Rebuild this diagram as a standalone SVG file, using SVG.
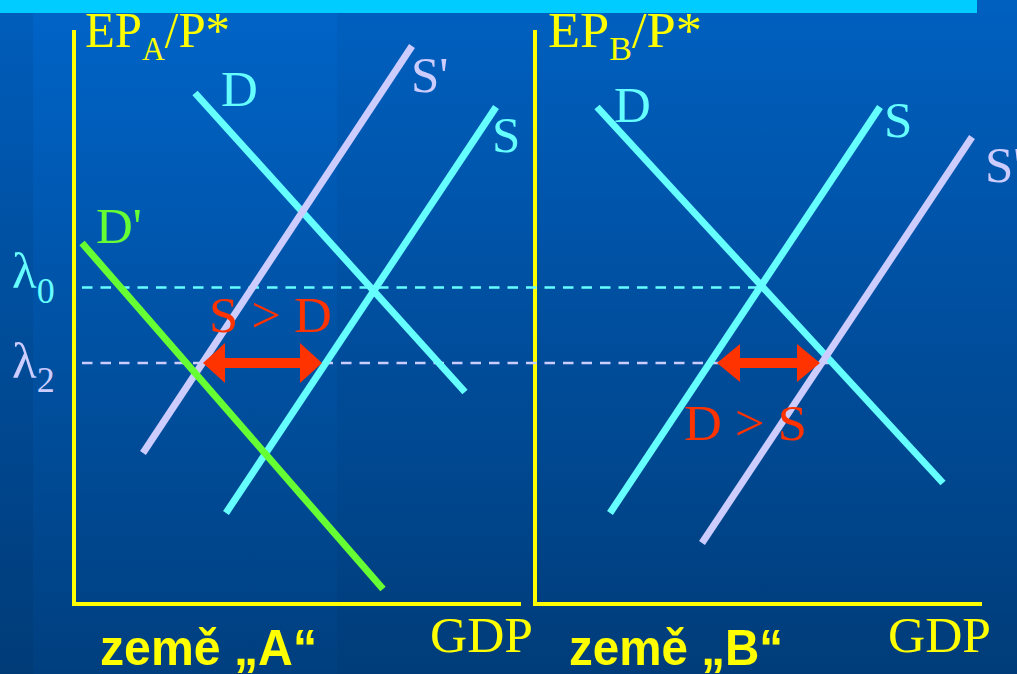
<svg xmlns="http://www.w3.org/2000/svg" width="1017" height="674" viewBox="0 0 1017 674">
  <defs>
    <linearGradient id="bg" x1="0" y1="0" x2="0" y2="1">
      <stop offset="0" stop-color="#0064c8"/>
      <stop offset="1" stop-color="#003f7f"/>
    </linearGradient>
    <style>
      .axis{stroke:#ffff00;stroke-width:4;fill:none;stroke-linecap:square}
      .cy{stroke:#66ffff;stroke-width:7;fill:none}
      .lv{stroke:#ccccff;stroke-width:7;fill:none}
      .gr{stroke:#66ff33;stroke-width:7;fill:none}
      .dash0{stroke:#66ffff;stroke-width:2.5;stroke-dasharray:10.5 8;fill:none}
      .dash2{stroke:#ccccff;stroke-width:2.5;stroke-dasharray:10.5 8;fill:none}
      .arrow{fill:#ff3300}
      .t{font-family:"Liberation Serif","Times New Roman",serif;font-size:51px}
      .b{font-family:"Liberation Sans",Arial,sans-serif;font-weight:bold;font-size:50px;fill:#ffff00}
      .yl{fill:#ffff00}
      .cyt{fill:#66ffff}
      .lvt{fill:#ccccff}
      .grt{fill:#66ff33}
      .rd{fill:#ff3300}
    </style>
  </defs>
  <g id="background">
    <rect x="0" y="0" width="1017" height="674" fill="url(#bg)"/>
    <rect x="0" y="0" width="33" height="674" fill="#000000" fill-opacity="0.06"/>
    <rect x="337" y="0" width="680" height="674" fill="#000000" fill-opacity="0.04"/>
    <rect x="0" y="0" width="977" height="13" fill="#00ccff"/>
  </g>
  <g id="axes-A">
    <polyline class="axis" points="74,32 74,604 519,604"/>
  </g>
  <g id="axes-B">
    <polyline class="axis" points="535,32 535,604 980,604"/>
  </g>
  <g id="connectors">
    <line class="dash0" x1="82" y1="287.5" x2="760" y2="287.5"/>
    <line class="dash2" x1="82" y1="363" x2="836" y2="363"/>
  </g>
  <g id="curve-D-A"><line class="cy" x1="195" y1="93" x2="465" y2="392"/></g>
  <g id="curve-S-A"><line class="cy" x1="496" y1="107" x2="226" y2="513"/></g>
  <g id="curve-S1-A"><line class="lv" x1="412" y1="46" x2="143" y2="453"/></g>
  <g id="curve-D1-A"><line class="gr" x1="82" y1="243" x2="383" y2="589"/></g>
  <g id="curve-D-B"><line class="cy" x1="597" y1="107" x2="943" y2="483"/></g>
  <g id="curve-S-B"><line class="cy" x1="880" y1="107" x2="610" y2="513"/></g>
  <g id="curve-S1-B"><line class="lv" x1="972" y1="137" x2="702" y2="543"/></g>
  <g id="arrow-A">
    <path class="arrow" d="M203,363 L225,343 L225,358 L300,358 L300,343 L322,363 L300,383 L300,368 L225,368 L225,383 Z"/>
  </g>
  <g id="arrow-B">
    <path class="arrow" d="M717,363 L740,344 L740,358 L797,358 L797,344 L820,363 L797,382 L797,368 L740,368 L740,382 Z"/>
  </g>
  <g id="labels">
    <text class="t yl" x="85" y="47" textLength="145" lengthAdjust="spacingAndGlyphs">EP<tspan font-size="33" dy="13">A</tspan><tspan dy="-13">/P*</tspan></text>
    <text class="t yl" x="548" y="47" textLength="154" lengthAdjust="spacingAndGlyphs">EP<tspan font-size="33" dy="13">B</tspan><tspan dy="-13">/P*</tspan></text>
    <text class="t cyt" x="221" y="106">D</text>
    <text class="t lvt" x="411" y="92">S'</text>
    <text class="t cyt" x="492" y="152">S</text>
    <text class="t grt" x="96" y="243">D'</text>
    <text class="t cyt" x="12" y="288" font-size="56">λ<tspan font-size="36" dy="15">0</tspan></text>
    <text class="t lvt" x="12" y="378" font-size="56">λ<tspan font-size="36" dy="14">2</tspan></text>
    <text class="t rd" x="209" y="332" textLength="123" lengthAdjust="spacingAndGlyphs">S &gt; D</text>
    <text class="t rd" x="684" y="440" textLength="123" lengthAdjust="spacingAndGlyphs">D &gt; S</text>
    <text class="t cyt" x="614" y="122">D</text>
    <text class="t cyt" x="884" y="137">S</text>
    <text class="t lvt" x="985" y="182">S'</text>
    <text class="t yl" x="430" y="652" textLength="103" lengthAdjust="spacingAndGlyphs">GDP</text>
    <text class="t yl" x="888" y="652" textLength="103" lengthAdjust="spacingAndGlyphs">GDP</text>
    <text class="b" x="100" y="665" textLength="217" lengthAdjust="spacingAndGlyphs">země „A“</text>
    <text class="b" x="569" y="665" textLength="214" lengthAdjust="spacingAndGlyphs">země „B“</text>
  </g>
</svg>
